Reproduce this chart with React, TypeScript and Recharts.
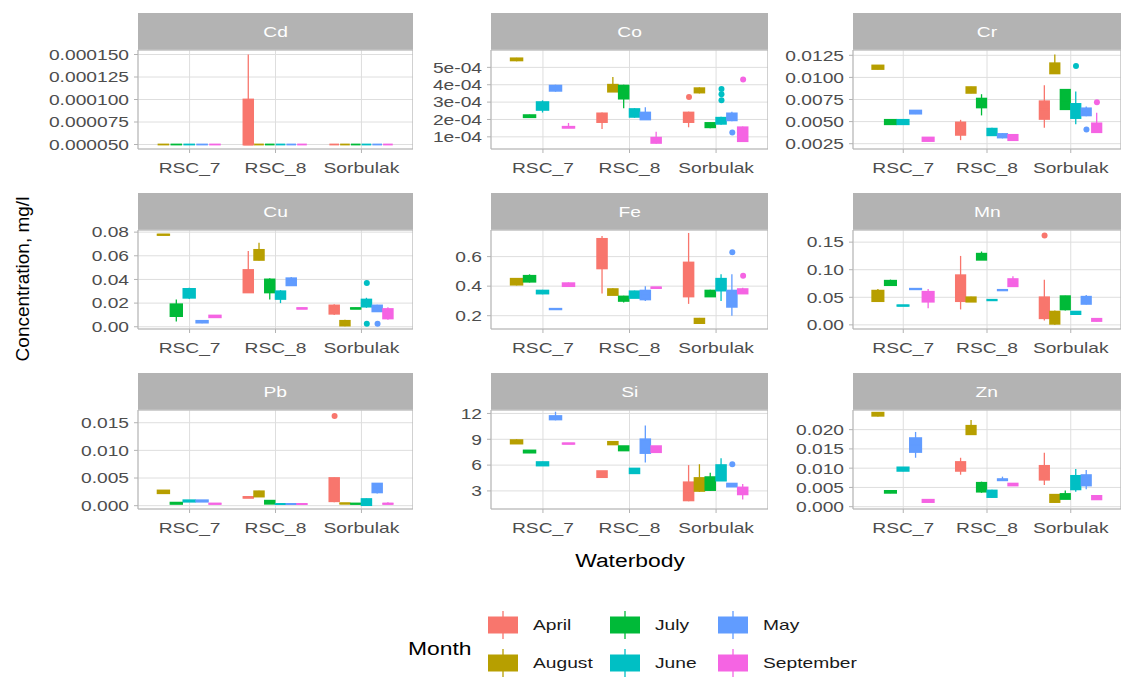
import React from 'react'
import {
  ComposedChart,
  Bar,
  Scatter,
  XAxis,
  YAxis,
  CartesianGrid,
  ReferenceArea,
} from 'recharts'

const WATERBODIES = ['RSC_7', 'RSC_8', 'Sorbulak']
const MONTHS = ['April', 'August', 'July', 'June', 'May', 'September']
const MONTH_COLORS = ['#F8766D', '#B79F00', '#00BA38', '#00BFC4', '#619CFF', '#F564E3']

// [waterbody, month, lower whisker, q1, median, q3, upper whisker]
type Box = [number, number, number, number, number, number, number]
// [waterbody, month, value]
type Outlier = [number, number, number]

const CD_BOXES: Box[] = [
  [0, 1, 0.00005, 0.00005, 0.00005, 0.00005, 0.00005],
  [0, 2, 0.00005, 0.00005, 0.00005, 0.00005, 0.00005],
  [0, 3, 0.00005, 0.00005, 0.00005, 0.00005, 0.00005],
  [0, 4, 0.00005, 0.00005, 0.00005, 0.00005, 0.00005],
  [0, 5, 0.00005, 0.00005, 0.00005, 0.00005, 0.00005],
  [1, 0, 0.00005, 0.00005, 0.00005, 0.0001, 0.00015],
  [1, 1, 0.00005, 0.00005, 0.00005, 0.00005, 0.00005],
  [1, 2, 0.00005, 0.00005, 0.00005, 0.00005, 0.00005],
  [1, 3, 0.00005, 0.00005, 0.00005, 0.00005, 0.00005],
  [1, 4, 0.00005, 0.00005, 0.00005, 0.00005, 0.00005],
  [1, 5, 0.00005, 0.00005, 0.00005, 0.00005, 0.00005],
  [2, 0, 0.00005, 0.00005, 0.00005, 0.00005, 0.00005],
  [2, 1, 0.00005, 0.00005, 0.00005, 0.00005, 0.00005],
  [2, 2, 0.00005, 0.00005, 0.00005, 0.00005, 0.00005],
  [2, 3, 0.00005, 0.00005, 0.00005, 0.00005, 0.00005],
  [2, 4, 0.00005, 0.00005, 0.00005, 0.00005, 0.00005],
  [2, 5, 0.00005, 0.00005, 0.00005, 0.00005, 0.00005],
]
const CD_OUTLIERS: Outlier[] = []
const CD_TICKS = [0.00005, 0.000075, 0.0001, 0.000125, 0.00015]
const CD_LABELS = ['0.000050', '0.000075', '0.000100', '0.000125', '0.000150']
const CD_DOMAIN: [number, number] = [0.000045, 0.000155]

const CO_BOXES: Box[] = [
  [0, 1, 5.35e-4, 5.4e-4, 5.45e-4, 5.52e-4, 5.55e-4],
  [0, 2, 2.1e-4, 2.13e-4, 2.2e-4, 2.25e-4, 2.28e-4],
  [0, 3, 2.4e-4, 2.55e-4, 2.75e-4, 3.0e-4, 3.1e-4],
  [0, 4, 3.6e-4, 3.65e-4, 3.8e-4, 3.95e-4, 4.0e-4],
  [0, 5, 1.5e-4, 1.52e-4, 1.55e-4, 1.58e-4, 1.8e-4],
  [1, 0, 1.45e-4, 1.85e-4, 2.05e-4, 2.35e-4, 2.4e-4],
  [1, 1, 3.6e-4, 3.6e-4, 3.8e-4, 4.0e-4, 4.45e-4],
  [1, 2, 2.65e-4, 3.2e-4, 3.7e-4, 3.95e-4, 4.0e-4],
  [1, 3, 2.1e-4, 2.15e-4, 2.35e-4, 2.6e-4, 2.65e-4],
  [1, 4, 2.0e-4, 2.0e-4, 2.2e-4, 2.4e-4, 2.7e-4],
  [1, 5, 0.6e-4, 0.65e-4, 0.8e-4, 0.95e-4, 1.3e-4],
  [2, 0, 1.55e-4, 1.85e-4, 2.1e-4, 2.4e-4, 2.45e-4],
  [2, 1, 3.5e-4, 3.55e-4, 3.65e-4, 3.8e-4, 3.85e-4],
  [2, 2, 1.5e-4, 1.55e-4, 1.7e-4, 1.8e-4, 1.82e-4],
  [2, 3, 1.7e-4, 1.75e-4, 1.95e-4, 2.1e-4, 2.15e-4],
  [2, 4, 1.9e-4, 1.95e-4, 2.1e-4, 2.35e-4, 2.45e-4],
  [2, 5, 0.7e-4, 0.75e-4, 1.1e-4, 1.55e-4, 1.6e-4],
]
const CO_OUTLIERS: Outlier[] = [
  [2, 0, 3.3e-4],
  [2, 3, 3.1e-4],
  [2, 3, 3.45e-4],
  [2, 3, 3.75e-4],
  [2, 4, 1.25e-4],
  [2, 5, 4.3e-4],
]
const CO_TICKS = [1e-4, 2e-4, 3e-4, 4e-4, 5e-4]
const CO_LABELS = ['1e-04', '2e-04', '3e-04', '4e-04', '5e-04']
const CO_DOMAIN: [number, number] = [0.3e-4, 6.0e-4]

const CR_BOXES: Box[] = [
  [0, 1, 10.9e-3, 10.95e-3, 11.15e-3, 11.35e-3, 11.4e-3],
  [0, 2, 4.65e-3, 4.7e-3, 4.95e-3, 5.2e-3, 5.25e-3],
  [0, 3, 4.65e-3, 4.7e-3, 4.95e-3, 5.2e-3, 5.25e-3],
  [0, 4, 5.85e-3, 5.9e-3, 6.1e-3, 6.25e-3, 6.3e-3],
  [0, 5, 2.75e-3, 2.8e-3, 3.0e-3, 3.2e-3, 3.25e-3],
  [1, 0, 2.9e-3, 3.5e-3, 4.0e-3, 4.9e-3, 5.2e-3],
  [1, 1, 8.2e-3, 8.25e-3, 8.6e-3, 8.9e-3, 8.95e-3],
  [1, 2, 5.7e-3, 6.6e-3, 7.0e-3, 7.6e-3, 8.1e-3],
  [1, 3, 3.4e-3, 3.45e-3, 3.8e-3, 4.2e-3, 4.3e-3],
  [1, 4, 3.1e-3, 3.2e-3, 3.4e-3, 3.6e-3, 3.7e-3],
  [1, 5, 2.8e-3, 2.9e-3, 3.2e-3, 3.5e-3, 3.6e-3],
  [2, 0, 4.3e-3, 5.3e-3, 6.4e-3, 7.3e-3, 9.1e-3],
  [2, 1, 10.4e-3, 10.45e-3, 11.0e-3, 11.6e-3, 12.6e-3],
  [2, 2, 6.3e-3, 6.4e-3, 7.2e-3, 8.6e-3, 8.7e-3],
  [2, 3, 4.7e-3, 5.4e-3, 6.0e-3, 7.0e-3, 8.4e-3],
  [2, 4, 5.6e-3, 5.7e-3, 6.2e-3, 6.5e-3, 6.7e-3],
  [2, 5, 3.7e-3, 3.8e-3, 4.2e-3, 4.8e-3, 6.0e-3],
]
const CR_OUTLIERS: Outlier[] = [
  [2, 3, 11.3e-3],
  [2, 4, 4.1e-3],
  [2, 5, 7.2e-3],
]
const CR_TICKS = [0.0025, 0.005, 0.0075, 0.01, 0.0125]
const CR_LABELS = ['0.0025', '0.0050', '0.0075', '0.0100', '0.0125']
const CR_DOMAIN: [number, number] = [0.0019, 0.0131]

const CU_BOXES: Box[] = [
  [0, 1, 7.75e-2, 7.76e-2, 7.78e-2, 7.8e-2, 7.8e-2],
  [0, 2, 0.45e-2, 0.9e-2, 1.35e-2, 1.9e-2, 2.3e-2],
  [0, 3, 2.35e-2, 2.45e-2, 2.85e-2, 3.2e-2, 3.3e-2],
  [0, 4, 0.3e-2, 0.35e-2, 0.42e-2, 0.5e-2, 0.55e-2],
  [0, 5, 0.75e-2, 0.8e-2, 0.87e-2, 0.95e-2, 1.0e-2],
  [1, 0, 2.9e-2, 2.9e-2, 3.8e-2, 4.8e-2, 6.4e-2],
  [1, 1, 5.6e-2, 5.65e-2, 6.1e-2, 6.5e-2, 7.1e-2],
  [1, 2, 2.3e-2, 2.9e-2, 3.5e-2, 4.0e-2, 4.1e-2],
  [1, 3, 2.0e-2, 2.35e-2, 2.7e-2, 3.0e-2, 3.1e-2],
  [1, 4, 3.45e-2, 3.5e-2, 3.85e-2, 4.1e-2, 4.2e-2],
  [1, 5, 1.5e-2, 1.52e-2, 1.55e-2, 1.58e-2, 1.6e-2],
  [2, 0, 1.0e-2, 1.1e-2, 1.45e-2, 1.8e-2, 1.9e-2],
  [2, 1, 0.05e-2, 0.1e-2, 0.3e-2, 0.5e-2, 0.6e-2],
  [2, 2, 1.5e-2, 1.52e-2, 1.55e-2, 1.58e-2, 1.6e-2],
  [2, 3, 1.6e-2, 1.7e-2, 2.0e-2, 2.3e-2, 2.45e-2],
  [2, 4, 1.25e-2, 1.3e-2, 1.55e-2, 1.8e-2, 1.85e-2],
  [2, 5, 0.6e-2, 0.7e-2, 1.0e-2, 1.5e-2, 1.65e-2],
]
const CU_OUTLIERS: Outlier[] = [
  [2, 3, 3.7e-2],
  [2, 3, 0.25e-2],
  [2, 4, 0.25e-2],
]
const CU_TICKS = [0, 0.02, 0.04, 0.06, 0.08]
const CU_LABELS = ['0.00', '0.02', '0.04', '0.06', '0.08']
const CU_DOMAIN: [number, number] = [-0.0019, 0.0818]

const FE_BOXES: Box[] = [
  [0, 1, 0.405, 0.41, 0.43, 0.45, 0.455],
  [0, 2, 0.425, 0.43, 0.455, 0.47, 0.48],
  [0, 3, 0.345, 0.35, 0.36, 0.37, 0.375],
  [0, 4, 0.24, 0.243, 0.245, 0.247, 0.25],
  [0, 5, 0.395, 0.4, 0.41, 0.42, 0.425],
  [1, 0, 0.35, 0.52, 0.6, 0.72, 0.74],
  [1, 1, 0.34, 0.34, 0.36, 0.38, 0.385],
  [1, 2, 0.29, 0.3, 0.315, 0.33, 0.335],
  [1, 3, 0.32, 0.32, 0.345, 0.365, 0.37],
  [1, 4, 0.3, 0.31, 0.34, 0.37, 0.4],
  [1, 5, 0.385, 0.387, 0.39, 0.392, 0.395],
  [2, 0, 0.28, 0.33, 0.47, 0.56, 0.76],
  [2, 1, 0.145, 0.15, 0.165, 0.18, 0.185],
  [2, 2, 0.33, 0.33, 0.35, 0.37, 0.375],
  [2, 3, 0.3, 0.37, 0.42, 0.45, 0.48],
  [2, 4, 0.2, 0.26, 0.3, 0.37, 0.48],
  [2, 5, 0.35, 0.35, 0.36, 0.38, 0.39],
]
const FE_OUTLIERS: Outlier[] = [
  [2, 4, 0.63],
  [2, 5, 0.47],
]
const FE_TICKS = [0.2, 0.4, 0.6]
const FE_LABELS = ['0.2', '0.4', '0.6']
const FE_DOMAIN: [number, number] = [0.11, 0.78]

const MN_BOXES: Box[] = [
  [0, 1, 4.2e-2, 4.3e-2, 5.0e-2, 6.2e-2, 6.5e-2],
  [0, 2, 7.1e-2, 7.2e-2, 7.6e-2, 8.0e-2, 8.2e-2],
  [0, 3, 3.4e-2, 3.45e-2, 3.5e-2, 3.55e-2, 3.6e-2],
  [0, 4, 6.4e-2, 6.45e-2, 6.5e-2, 6.55e-2, 6.6e-2],
  [0, 5, 3.0e-2, 4.2e-2, 5.0e-2, 6.0e-2, 6.5e-2],
  [1, 0, 2.8e-2, 4.3e-2, 5.7e-2, 9.0e-2, 12.5e-2],
  [1, 1, 4.2e-2, 4.2e-2, 4.6e-2, 5.0e-2, 5.1e-2],
  [1, 2, 11.8e-2, 11.8e-2, 12.3e-2, 12.9e-2, 13.3e-2],
  [1, 3, 4.4e-2, 4.45e-2, 4.5e-2, 4.55e-2, 4.6e-2],
  [1, 4, 6.2e-2, 6.25e-2, 6.3e-2, 6.35e-2, 6.4e-2],
  [1, 5, 7.0e-2, 7.0e-2, 7.6e-2, 8.3e-2, 8.8e-2],
  [2, 0, 0.8e-2, 1.2e-2, 2.5e-2, 5.0e-2, 8.2e-2],
  [2, 1, 0.0, 0.2e-2, 1.0e-2, 2.4e-2, 2.6e-2],
  [2, 2, 2.6e-2, 2.8e-2, 3.8e-2, 5.2e-2, 5.3e-2],
  [2, 3, 1.9e-2, 1.95e-2, 2.1e-2, 2.4e-2, 2.5e-2],
  [2, 4, 3.7e-2, 3.8e-2, 4.4e-2, 5.1e-2, 5.4e-2],
  [2, 5, 0.6e-2, 0.7e-2, 0.9e-2, 1.1e-2, 1.2e-2],
]
const MN_OUTLIERS: Outlier[] = [[2, 0, 16.2e-2]]
const MN_TICKS = [0, 0.05, 0.1, 0.15]
const MN_LABELS = ['0.00', '0.05', '0.10', '0.15']
const MN_DOMAIN: [number, number] = [-0.0075, 0.172]

const PB_BOXES: Box[] = [
  [0, 1, 2.2e-3, 2.25e-3, 2.5e-3, 2.75e-3, 2.8e-3],
  [0, 2, 0.3e-3, 0.32e-3, 0.45e-3, 0.55e-3, 0.6e-3],
  [0, 3, 0.7e-3, 0.72e-3, 0.85e-3, 0.98e-3, 1.0e-3],
  [0, 4, 0.7e-3, 0.72e-3, 0.85e-3, 0.98e-3, 1.0e-3],
  [0, 5, 0.3e-3, 0.32e-3, 0.35e-3, 0.38e-3, 0.4e-3],
  [1, 0, 1.4e-3, 1.42e-3, 1.5e-3, 1.58e-3, 1.6e-3],
  [1, 1, 1.6e-3, 1.65e-3, 2.1e-3, 2.6e-3, 2.7e-3],
  [1, 2, 0.3e-3, 0.35e-3, 0.6e-3, 0.9e-3, 0.95e-3],
  [1, 3, 0.28e-3, 0.29e-3, 0.3e-3, 0.31e-3, 0.32e-3],
  [1, 4, 0.28e-3, 0.29e-3, 0.3e-3, 0.31e-3, 0.32e-3],
  [1, 5, 0.28e-3, 0.29e-3, 0.3e-3, 0.31e-3, 0.32e-3],
  [2, 0, 0.6e-3, 0.8e-3, 3.0e-3, 5.0e-3, 5.1e-3],
  [2, 1, 0.35e-3, 0.37e-3, 0.4e-3, 0.43e-3, 0.45e-3],
  [2, 2, 0.3e-3, 0.32e-3, 0.35e-3, 0.38e-3, 0.4e-3],
  [2, 3, 0.0, 0.1e-3, 0.5e-3, 1.2e-3, 1.3e-3],
  [2, 4, 2.2e-3, 2.4e-3, 3.2e-3, 4.0e-3, 4.1e-3],
  [2, 5, 0.3e-3, 0.32e-3, 0.35e-3, 0.38e-3, 0.6e-3],
]
const PB_OUTLIERS: Outlier[] = [[2, 0, 16.2e-3]]
const PB_TICKS = [0, 0.005, 0.01, 0.015]
const PB_LABELS = ['0.000', '0.005', '0.010', '0.015']
const PB_DOMAIN: [number, number] = [-0.0006, 0.0173]

const SI_BOXES: Box[] = [
  [0, 1, 8.5, 8.5, 8.7, 8.9, 9.0],
  [0, 2, 7.4, 7.45, 7.55, 7.7, 7.75],
  [0, 3, 5.9, 5.95, 6.1, 6.35, 6.4],
  [0, 4, 11.2, 11.3, 11.5, 11.7, 12.2],
  [0, 5, 8.45, 8.47, 8.5, 8.53, 8.55],
  [1, 0, 4.6, 4.6, 4.95, 5.3, 5.3],
  [1, 1, 8.4, 8.4, 8.55, 8.7, 8.7],
  [1, 2, 7.7, 7.7, 7.95, 8.2, 8.2],
  [1, 3, 5.0, 5.05, 5.3, 5.6, 5.65],
  [1, 4, 6.3, 7.4, 8.0, 9.0, 10.6],
  [1, 5, 7.5, 7.5, 7.9, 8.2, 8.2],
  [2, 0, 1.8, 1.9, 2.9, 4.0, 6.0],
  [2, 1, 2.9, 3.0, 3.8, 4.5, 6.1],
  [2, 2, 3.0, 3.1, 3.5, 4.6, 5.1],
  [2, 3, 4.2, 4.2, 4.8, 6.0, 6.8],
  [2, 4, 3.5, 3.5, 3.7, 3.85, 3.9],
  [2, 5, 2.0, 2.6, 3.0, 3.4, 3.8],
]
const SI_OUTLIERS: Outlier[] = [[2, 4, 6.1]]
const SI_TICKS = [3, 6, 9, 12]
const SI_LABELS = ['3', '6', '9', '12']
const SI_DOMAIN: [number, number] = [0.9, 12.4]

const ZN_BOXES: Box[] = [
  [0, 1, 23.4e-3, 23.6e-3, 24.0e-3, 24.4e-3, 24.5e-3],
  [0, 2, 3.5e-3, 3.6e-3, 3.9e-3, 4.1e-3, 4.2e-3],
  [0, 3, 9.2e-3, 9.3e-3, 9.8e-3, 10.2e-3, 10.3e-3],
  [0, 4, 12.7e-3, 14.2e-3, 16.0e-3, 17.8e-3, 19.4e-3],
  [0, 5, 1.1e-3, 1.2e-3, 1.5e-3, 1.8e-3, 1.9e-3],
  [1, 0, 8.3e-3, 9.3e-3, 10.5e-3, 11.6e-3, 12.7e-3],
  [1, 1, 18.8e-3, 18.8e-3, 19.8e-3, 21.0e-3, 22.5e-3],
  [1, 2, 3.6e-3, 3.9e-3, 5.0e-3, 6.2e-3, 6.5e-3],
  [1, 3, 2.3e-3, 2.5e-3, 3.3e-3, 4.2e-3, 4.4e-3],
  [1, 4, 6.8e-3, 6.85e-3, 7.0e-3, 7.15e-3, 7.8e-3],
  [1, 5, 5.5e-3, 5.5e-3, 5.7e-3, 6.0e-3, 6.0e-3],
  [2, 0, 5.6e-3, 7.0e-3, 8.6e-3, 10.6e-3, 14.0e-3],
  [2, 1, 1.0e-3, 1.2e-3, 2.1e-3, 3.1e-3, 3.2e-3],
  [2, 2, 2.0e-3, 2.0e-3, 2.6e-3, 3.3e-3, 4.2e-3],
  [2, 3, 3.9e-3, 4.5e-3, 6.2e-3, 8.0e-3, 9.8e-3],
  [2, 4, 4.5e-3, 5.5e-3, 7.3e-3, 8.2e-3, 9.5e-3],
  [2, 5, 1.9e-3, 1.9e-3, 2.3e-3, 2.8e-3, 2.9e-3],
]
const ZN_OUTLIERS: Outlier[] = []
const ZN_TICKS = [0, 0.005, 0.01, 0.015, 0.02]
const ZN_LABELS = ['0.000', '0.005', '0.010', '0.015', '0.020']
const ZN_DOMAIN: [number, number] = [-0.0006, 0.0251]

type Facet = {
  name: string
  boxes: Box[]
  outliers: Outlier[]
  ticks: number[]
  labels: string[]
  domain: [number, number]
}

const FACETS: Facet[] = [
  { name: 'Cd', boxes: CD_BOXES, outliers: CD_OUTLIERS, ticks: CD_TICKS, labels: CD_LABELS, domain: CD_DOMAIN },
  { name: 'Co', boxes: CO_BOXES, outliers: CO_OUTLIERS, ticks: CO_TICKS, labels: CO_LABELS, domain: CO_DOMAIN },
  { name: 'Cr', boxes: CR_BOXES, outliers: CR_OUTLIERS, ticks: CR_TICKS, labels: CR_LABELS, domain: CR_DOMAIN },
  { name: 'Cu', boxes: CU_BOXES, outliers: CU_OUTLIERS, ticks: CU_TICKS, labels: CU_LABELS, domain: CU_DOMAIN },
  { name: 'Fe', boxes: FE_BOXES, outliers: FE_OUTLIERS, ticks: FE_TICKS, labels: FE_LABELS, domain: FE_DOMAIN },
  { name: 'Mn', boxes: MN_BOXES, outliers: MN_OUTLIERS, ticks: MN_TICKS, labels: MN_LABELS, domain: MN_DOMAIN },
  { name: 'Pb', boxes: PB_BOXES, outliers: PB_OUTLIERS, ticks: PB_TICKS, labels: PB_LABELS, domain: PB_DOMAIN },
  { name: 'Si', boxes: SI_BOXES, outliers: SI_OUTLIERS, ticks: SI_TICKS, labels: SI_LABELS, domain: SI_DOMAIN },
  { name: 'Zn', boxes: ZN_BOXES, outliers: ZN_OUTLIERS, ticks: ZN_TICKS, labels: ZN_LABELS, domain: ZN_DOMAIN },
]

// layout (px)
const FONT = '"Liberation Sans", Arial, Helvetica, sans-serif'
const SX = 1.28 // the reference text is drawn a bit wide
const COLS = [
  { left: 138, width: 275 },
  { left: 491, width: 277 },
  { left: 853, width: 268 },
]
const ROW_TOPS = [13, 193, 373]
const STRIP_H = 37
const PLOT_H = 99
const PAD_TOP = 12
const Y_AXIS_W = 100
const X_AXIS_H = 40
const GRID = '#DEDEDE'
const MINOR_GRID = '#EDEDED'
const BORDER = '#B3B3B3'
const TEXT = '#4D4D4D'

// ggplot style dodge: the months present at a waterbody share 0.75 of a category
function buildRows(boxes: Box[]) {
  return boxes.map(([wb, month, lo, q1, med, q3, hi]) => {
    const group = boxes
      .filter((b) => b[0] === wb)
      .map((b) => b[1])
      .sort((a, b) => a - b)
    const n = group.length
    const rank = group.indexOf(month)
    const x = wb + 1 - 0.375 + ((rank + 0.5) * 0.75) / n
    return { x, wb, month, lo, q1, med, q3, hi, n, range: [lo, hi] }
  })
}

function minorBreaks(ticks: number[], domain: [number, number]) {
  const step = ticks[1] - ticks[0]
  const out: number[] = []
  for (let k = 0; k <= ticks.length; k++) {
    const v = ticks[0] - step / 2 + k * step
    if (v > domain[0] && v < domain[1]) out.push(v)
  }
  return out
}

function makeBoxShape(unit: number) {
  return function BoxShape(props: any) {
    const { x, y, width, height } = props
    const p = props.payload ?? props
    if (x == null || y == null || p == null || p.lo == null) return null
    const color = MONTH_COLORS[p.month]
    const cx = x + (width || 0) / 2
    const top = Math.min(y, y + (height || 0))
    const bottom = Math.max(y, y + (height || 0))
    const span = p.hi - p.lo
    const px = (v: number) => (span > 0 ? top + ((bottom - top) * (p.hi - v)) / span : top)
    const w = ((unit * 0.75) / p.n) * 0.9
    const yq3 = px(p.q3)
    const yq1 = px(p.q1)
    const ymed = px(p.med)
    return (
      <g>
        <line x1={cx} x2={cx} y1={px(p.hi)} y2={px(p.lo)} stroke={color} strokeWidth={1.3} />
        <rect
          x={cx - w / 2}
          y={yq3}
          width={w}
          height={Math.max(yq1 - yq3, 0)}
          fill={color}
          stroke={color}
          strokeWidth={1.8}
        />
        <line x1={cx - w / 2} x2={cx + w / 2} y1={ymed} y2={ymed} stroke={color} strokeWidth={1.8} />
      </g>
    )
  }
}

function OutlierDot(props: any) {
  const { cx, cy, payload } = props
  if (cx == null || cy == null) return null
  return <circle cx={cx} cy={cy} r={3} fill={MONTH_COLORS[payload.month]} />
}

function XTick(props: any) {
  const { x, y, payload } = props
  return (
    <text
      transform={`translate(${x},${y}) scale(${SX},1)`}
      textAnchor="middle"
      dy="0.71em"
      fill={TEXT}
      fontSize={15}
      fontFamily={FONT}
    >
      {WATERBODIES[Math.round(payload.value) - 1]}
    </text>
  )
}

function makeYTick(ticks: number[], labels: string[]) {
  return function YTick(props: any) {
    const { x, y, payload } = props
    let idx = 0
    ticks.forEach((t, i) => {
      if (Math.abs(t - payload.value) < Math.abs(ticks[idx] - payload.value)) idx = i
    })
    return (
      <text
        transform={`translate(${x},${y}) scale(${SX},1)`}
        textAnchor="end"
        dy="0.355em"
        fill={TEXT}
        fontSize={15}
        fontFamily={FONT}
      >
        {labels[idx]}
      </text>
    )
  }
}

function Panel({ facet, col, row }: { facet: Facet; col: number; row: number }) {
  const { left, width } = COLS[col]
  const top = ROW_TOPS[row]
  const unit = width / 3.2
  const rows = buildRows(facet.boxes)
  const outliers = facet.outliers.map(([wb, m, v]) => {
    const r = rows.find((d) => d.wb === wb && d.month === m)
    return { x: r ? r.x : wb + 1, y: v, month: m }
  })
  const minor = minorBreaks(facet.ticks, facet.domain)
  const YTick = makeYTick(facet.ticks, facet.labels)

  return (
    <>
      <div
        style={{
          position: 'absolute',
          left,
          top,
          width,
          height: STRIP_H,
          background: BORDER,
          color: '#fff',
          fontFamily: FONT,
          fontSize: 15,
          display: 'flex',
          alignItems: 'center',
          justifyContent: 'center',
        }}
      >
        <span style={{ display: 'inline-block', transform: `scaleX(${SX})` }}>{facet.name}</span>
      </div>
      <div style={{ position: 'absolute', left: left - Y_AXIS_W, top: top + STRIP_H - PAD_TOP }}>
        <ComposedChart
          width={Y_AXIS_W + width}
          height={PAD_TOP + PLOT_H + X_AXIS_H}
          data={rows}
          margin={{ top: PAD_TOP, right: 0, bottom: 0, left: 0 }}
        >
          {/* minor grid, placed through the y scale */}
          <CartesianGrid
            vertical={false}
            stroke={MINOR_GRID}
            strokeWidth={0.8}
            horizontalCoordinatesGenerator={(gp: any) =>
              gp && gp.yAxis && typeof gp.yAxis.scale === 'function'
                ? minor.map((v) => gp.yAxis.scale(v))
                : []
            }
          />
          <CartesianGrid stroke={GRID} strokeWidth={1} />
          <XAxis
            type="number"
            dataKey="x"
            domain={[0.4, 3.6]}
            ticks={[1, 2, 3]}
            allowDataOverflow
            interval={0}
            height={X_AXIS_H}
            axisLine={false}
            tickLine={{ stroke: BORDER }}
            tickSize={4}
            tickMargin={9}
            tick={<XTick />}
          />
          <YAxis
            type="number"
            domain={facet.domain}
            ticks={facet.ticks}
            allowDataOverflow
            interval={0}
            width={Y_AXIS_W}
            axisLine={false}
            tickLine={{ stroke: BORDER }}
            tickSize={4}
            tickMargin={5}
            tick={<YTick />}
          />
          <ReferenceArea
            x1={0.4}
            x2={3.6}
            y1={facet.domain[0]}
            y2={facet.domain[1]}
            fill="none"
            stroke={BORDER}
            strokeWidth={1}
          />
          <Bar dataKey="range" barSize={10} shape={makeBoxShape(unit)} isAnimationActive={false} />
          <Scatter data={outliers} dataKey="y" shape={<OutlierDot />} isAnimationActive={false} />
        </ComposedChart>
      </div>
    </>
  )
}

const LEGEND_COLS = [488, 610, 718]
const LEGEND_ROWS = [625, 663]

function Legend() {
  return (
    <svg
      width={1126}
      height={677}
      style={{ position: 'absolute', left: 0, top: 0, pointerEvents: 'none' }}
      fontFamily={FONT}
    >
      <text
        transform={`translate(408,648) scale(${SX * 0.94},1)`}
        dy="0.355em"
        fontSize={19}
        fill="#000"
      >
        Month
      </text>
      {MONTHS.map((m, i) => {
        const cx = LEGEND_COLS[Math.floor(i / 2)]
        const cy = LEGEND_ROWS[i % 2]
        return (
          <g key={m}>
            <line x1={cx + 15} x2={cx + 15} y1={cy - 14} y2={cy + 14} stroke={MONTH_COLORS[i]} strokeWidth={1.3} />
            <rect x={cx} y={cy - 8.5} width={30} height={17} fill={MONTH_COLORS[i]} />
            <text
              transform={`translate(${cx + 45},${cy}) scale(${SX},1)`}
              dy="0.355em"
              fontSize={15}
              fill="#1A1A1A"
            >
              {m}
            </text>
          </g>
        )
      })}
      <text
        transform={`translate(630,560) scale(${SX * 0.94},1)`}
        textAnchor="middle"
        dy="0.355em"
        fontSize={19}
        fill="#000"
      >
        Waterbody
      </text>
      <text
        transform="translate(22,279) rotate(-90)"
        textAnchor="middle"
        dy="0.355em"
        fontSize={19}
        fill="#000"
      >
        Concentration, mg/l
      </text>
    </svg>
  )
}

export default function App() {
  return (
    <div
      style={{
        position: 'absolute',
        left: 0,
        top: 0,
        width: 1126,
        height: 677,
        background: '#fff',
        overflow: 'hidden',
      }}
    >
      {FACETS.map((f, i) => (
        <Panel key={f.name} facet={f} col={i % 3} row={Math.floor(i / 3)} />
      ))}
      <Legend />
    </div>
  )
}
